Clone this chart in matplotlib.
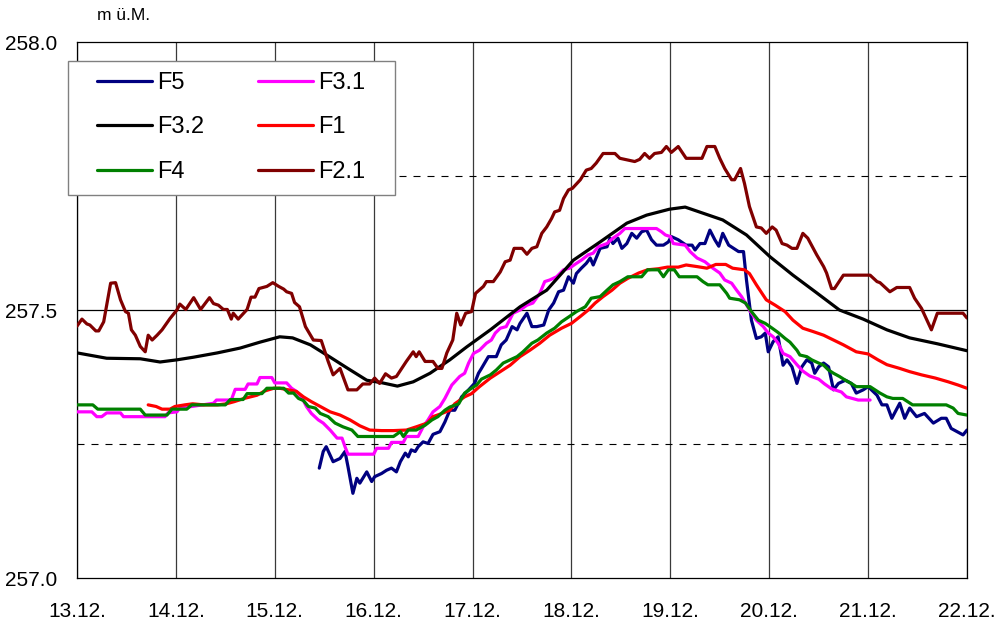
import numpy as np
import matplotlib.pyplot as plt
from matplotlib.patches import Rectangle

plt.rcParams['font.family'] = ['Liberation Sans', 'DejaVu Sans']

# Tage (x = Tage ab 13.12., 0 Uhr)
tage = ['13.12.', '14.12.', '15.12.', '16.12.', '17.12.',
        '18.12.', '19.12.', '20.12.', '21.12.', '22.12.']
y_ticks = [257.0, 257.5, 258.0]

# Pegel F5
t_f5 = [2.45, 2.49, 2.52, 2.59, 2.66, 2.71, 2.74, 2.79, 2.83, 2.86,
        2.93, 2.98, 3.01, 3.08, 3.13, 3.18, 3.23, 3.27, 3.32, 3.35,
        3.38, 3.42, 3.45, 3.50, 3.55, 3.60, 3.67, 3.72, 3.77, 3.82,
        3.89, 3.96, 4.02, 4.06, 4.09, 4.16, 4.24, 4.29, 4.34, 4.40,
        4.45, 4.48, 4.55, 4.60, 4.65, 4.72, 4.77, 4.82, 4.87, 4.92,
        4.97, 5.02, 5.05, 5.10, 5.15, 5.19, 5.22, 5.29, 5.36, 5.39,
        5.42, 5.47, 5.51, 5.56, 5.61, 5.66, 5.71, 5.76, 5.81, 5.86,
        5.93, 5.98, 6.01, 6.08, 6.16, 6.22, 6.25, 6.30, 6.35, 6.40,
        6.45, 6.49, 6.53, 6.59, 6.64, 6.69, 6.74, 6.77, 6.82, 6.87,
        6.92, 6.96, 6.99, 7.04, 7.09, 7.14, 7.18, 7.23, 7.28, 7.33,
        7.38, 7.43, 7.46, 7.50, 7.55, 7.60, 7.65, 7.70, 7.77, 7.83,
        7.88, 7.95, 8.00, 8.09, 8.14, 8.19, 8.24, 8.32, 8.37, 8.42,
        8.49, 8.57, 8.66, 8.74, 8.79, 8.84, 8.90, 8.96, 9.00]
h_f5 = [257.205, 257.236, 257.245, 257.217, 257.223, 257.236, 257.208, 257.158, 257.186, 257.177,
        257.198, 257.180, 257.189, 257.195, 257.201, 257.205, 257.198, 257.217, 257.233, 257.226,
        257.239, 257.236, 257.245, 257.254, 257.251, 257.268, 257.273, 257.291, 257.313, 257.313,
        257.338, 257.351, 257.363, 257.382, 257.391, 257.413, 257.413, 257.435, 257.444, 257.469,
        257.463, 257.475, 257.494, 257.469, 257.469, 257.472, 257.500, 257.513, 257.534, 257.537,
        257.562, 257.550, 257.568, 257.578, 257.587, 257.597, 257.584, 257.615, 257.618, 257.634,
        257.624, 257.634, 257.615, 257.624, 257.643, 257.634, 257.646, 257.649, 257.631, 257.621,
        257.621, 257.627, 257.637, 257.631, 257.621, 257.621, 257.612, 257.624, 257.624, 257.649,
        257.631, 257.619, 257.643, 257.621, 257.615, 257.609, 257.609, 257.556, 257.481, 257.447,
        257.450, 257.457, 257.422, 257.441, 257.450, 257.397, 257.407, 257.394, 257.363, 257.394,
        257.407, 257.401, 257.382, 257.394, 257.401, 257.394, 257.351, 257.363, 257.369, 257.363,
        257.345, 257.351, 257.357, 257.341, 257.323, 257.323, 257.298, 257.326, 257.298, 257.317,
        257.301, 257.307, 257.289, 257.298, 257.298, 257.279, 257.273, 257.267, 257.276]

# Pegel F3.1
t_f31 = [0.00, 0.15, 0.20, 0.25, 0.30, 0.44, 0.47, 0.89, 0.92, 1.01,
         1.04, 1.16, 1.38, 1.41, 1.56, 1.60, 1.70, 1.73, 1.82, 1.85,
         1.97, 2.00, 2.12, 2.17, 2.22, 2.27, 2.32, 2.37, 2.44, 2.49,
         2.56, 2.63, 2.68, 2.71, 2.74, 3.00, 3.03, 3.15, 3.18, 3.30,
         3.33, 3.45, 3.50, 3.55, 3.60, 3.67, 3.72, 3.79, 3.87, 3.92,
         3.96, 4.01, 4.07, 4.14, 4.19, 4.23, 4.28, 4.34, 4.41, 4.48,
         4.55, 4.61, 4.68, 4.73, 4.78, 4.85, 4.92, 4.98, 5.05, 5.10,
         5.17, 5.22, 5.27, 5.36, 5.42, 5.49, 5.54, 5.86, 5.91, 5.95,
         6.00, 6.03, 6.15, 6.20, 6.27, 6.35, 6.43, 6.50, 6.55, 6.62,
         6.67, 6.72, 6.76, 6.81, 6.87, 6.94, 6.99, 7.04, 7.09, 7.14,
         7.21, 7.28, 7.34, 7.41, 7.50, 7.56, 7.63, 7.73, 7.78, 7.90,
         8.02]
h_f31 = [257.310, 257.310, 257.301, 257.301, 257.308, 257.308, 257.301, 257.301, 257.308, 257.310,
         257.317, 257.320, 257.326, 257.332, 257.332, 257.352, 257.352, 257.362, 257.362, 257.374,
         257.374, 257.364, 257.364, 257.354, 257.348, 257.338, 257.320, 257.307, 257.295, 257.289,
         257.276, 257.261, 257.261, 257.245, 257.231, 257.231, 257.242, 257.242, 257.253, 257.253,
         257.264, 257.264, 257.282, 257.295, 257.310, 257.320, 257.335, 257.360, 257.376, 257.382,
         257.401, 257.419, 257.425, 257.438, 257.444, 257.457, 257.466, 257.469, 257.494, 257.500,
         257.509, 257.513, 257.531, 257.553, 257.556, 257.562, 257.575, 257.578, 257.587, 257.593,
         257.603, 257.606, 257.618, 257.624, 257.634, 257.643, 257.652, 257.652, 257.646, 257.640,
         257.637, 257.624, 257.621, 257.609, 257.597, 257.590, 257.578, 257.569, 257.556, 257.550,
         257.537, 257.525, 257.513, 257.497, 257.481, 257.469, 257.457, 257.450, 257.438, 257.419,
         257.413, 257.398, 257.386, 257.377, 257.371, 257.362, 257.353, 257.347, 257.338, 257.332,
         257.332]

# Pegel F3.2
t_f32 = [0.00, 0.30, 0.64, 0.84, 1.01, 1.18, 1.42, 1.65, 1.85, 2.05,
         2.18, 2.36, 2.56, 2.73, 2.93, 3.09, 3.24, 3.40, 3.57, 3.77,
         3.94, 4.18, 4.48, 4.75, 5.02, 5.29, 5.56, 5.76, 5.99, 6.15,
         6.53, 6.77, 7.01, 7.24, 7.48, 7.71, 7.95, 8.19, 8.42, 8.70,
         9.00]
h_f32 = [257.420, 257.410, 257.409, 257.403, 257.407, 257.412, 257.420, 257.429, 257.440, 257.450,
         257.448, 257.435, 257.412, 257.392, 257.369, 257.364, 257.358, 257.366, 257.382, 257.407,
         257.431, 257.463, 257.506, 257.537, 257.593, 257.627, 257.662, 257.677, 257.688, 257.692,
         257.668, 257.640, 257.599, 257.565, 257.532, 257.500, 257.483, 257.463, 257.448, 257.437,
         257.424]

# Pegel F1
t_f1 = [0.72, 0.80, 0.86, 0.94, 0.99, 1.09, 1.17, 1.28, 1.42, 1.51,
        1.59, 1.69, 1.82, 1.90, 1.99, 2.05, 2.14, 2.22, 2.29, 2.37,
        2.46, 2.56, 2.66, 2.76, 2.86, 2.96, 3.08, 3.20, 3.33, 3.43,
        3.54, 3.60, 3.69, 3.77, 3.82, 3.92, 3.99, 4.07, 4.18, 4.28,
        4.38, 4.48, 4.58, 4.68, 4.78, 4.90, 5.00, 5.09, 5.17, 5.24,
        5.32, 5.41, 5.49, 5.57, 5.68, 5.77, 5.88, 5.97, 6.08, 6.16,
        6.27, 6.37, 6.46, 6.56, 6.63, 6.75, 6.80, 6.87, 6.97, 7.06,
        7.16, 7.24, 7.34, 7.44, 7.55, 7.65, 7.75, 7.88, 8.00, 8.10,
        8.19, 8.32, 8.42, 8.54, 8.68, 8.81, 8.91, 9.00]
h_f1 = [257.323, 257.320, 257.315, 257.315, 257.320, 257.323, 257.325, 257.323, 257.323, 257.325,
        257.329, 257.335, 257.341, 257.349, 257.354, 257.354, 257.351, 257.348, 257.338, 257.329,
        257.320, 257.310, 257.304, 257.295, 257.284, 257.276, 257.275, 257.275, 257.276, 257.282,
        257.289, 257.301, 257.307, 257.313, 257.325, 257.338, 257.344, 257.357, 257.373, 257.385,
        257.397, 257.413, 257.425, 257.438, 257.453, 257.466, 257.475, 257.488, 257.500, 257.513,
        257.525, 257.537, 257.550, 257.559, 257.569, 257.575, 257.577, 257.580, 257.580, 257.584,
        257.581, 257.578, 257.585, 257.585, 257.578, 257.575, 257.568, 257.547, 257.519, 257.509,
        257.497, 257.481, 257.466, 257.460, 257.453, 257.444, 257.435, 257.422, 257.418, 257.407,
        257.398, 257.391, 257.385, 257.379, 257.373, 257.366, 257.360, 257.354]

# Pegel F4
t_f4 = [0.00, 0.16, 0.21, 0.64, 0.69, 0.91, 0.96, 1.11, 1.16, 1.50,
        1.55, 1.68, 1.72, 1.87, 1.92, 2.09, 2.14, 2.19, 2.24, 2.29,
        2.34, 2.41, 2.46, 2.54, 2.61, 2.69, 2.78, 2.84, 3.20, 3.27,
        3.30, 3.35, 3.43, 3.52, 3.59, 3.65, 3.72, 3.77, 3.86, 3.92,
        3.99, 4.04, 4.09, 4.18, 4.24, 4.31, 4.38, 4.45, 4.51, 4.60,
        4.66, 4.75, 4.83, 4.90, 4.98, 5.05, 5.14, 5.20, 5.29, 5.36,
        5.42, 5.49, 5.57, 5.71, 5.77, 5.88, 5.93, 5.98, 6.04, 6.09,
        6.27, 6.33, 6.38, 6.50, 6.57, 6.60, 6.70, 6.76, 6.82, 6.89,
        6.96, 7.03, 7.09, 7.16, 7.21, 7.28, 7.31, 7.38, 7.43, 7.50,
        7.55, 7.60, 7.65, 7.71, 7.77, 7.83, 7.88, 8.02, 8.07, 8.12,
        8.19, 8.25, 8.35, 8.40, 8.45, 8.79, 8.86, 8.91, 9.00]
h_f4 = [257.323, 257.323, 257.315, 257.315, 257.304, 257.304, 257.315, 257.315, 257.323, 257.323,
        257.333, 257.333, 257.344, 257.344, 257.354, 257.354, 257.345, 257.345, 257.335, 257.331,
        257.320, 257.317, 257.307, 257.301, 257.289, 257.282, 257.276, 257.264, 257.264, 257.273,
        257.264, 257.276, 257.276, 257.285, 257.295, 257.301, 257.313, 257.319, 257.325, 257.345,
        257.354, 257.360, 257.371, 257.379, 257.388, 257.401, 257.407, 257.413, 257.422, 257.438,
        257.444, 257.457, 257.466, 257.478, 257.488, 257.497, 257.506, 257.522, 257.525, 257.537,
        257.547, 257.553, 257.562, 257.562, 257.575, 257.575, 257.562, 257.575, 257.575, 257.562,
        257.562, 257.553, 257.547, 257.547, 257.531, 257.522, 257.519, 257.513, 257.497, 257.481,
        257.475, 257.466, 257.458, 257.447, 257.440, 257.425, 257.416, 257.413, 257.407, 257.401,
        257.397, 257.388, 257.382, 257.376, 257.369, 257.363, 257.357, 257.357, 257.351, 257.345,
        257.338, 257.335, 257.335, 257.329, 257.323, 257.323, 257.317, 257.307, 257.304]

# Pegel F2.1
t_f21 = [0.00, 0.05, 0.10, 0.13, 0.19, 0.22, 0.27, 0.34, 0.39, 0.44,
         0.49, 0.52, 0.55, 0.59, 0.64, 0.69, 0.72, 0.76, 0.81, 0.86,
         0.94, 1.01, 1.04, 1.10, 1.18, 1.25, 1.34, 1.38, 1.43, 1.48,
         1.52, 1.56, 1.58, 1.63, 1.72, 1.76, 1.80, 1.84, 1.92, 1.98,
         2.04, 2.09, 2.12, 2.17, 2.20, 2.25, 2.31, 2.39, 2.47, 2.54,
         2.59, 2.66, 2.74, 2.83, 2.89, 2.96, 3.01, 3.06, 3.12, 3.18,
         3.23, 3.33, 3.40, 3.43, 3.46, 3.52, 3.60, 3.65, 3.69, 3.74,
         3.80, 3.84, 3.88, 3.93, 3.99, 4.03, 4.11, 4.14, 4.21, 4.28,
         4.33, 4.38, 4.42, 4.50, 4.55, 4.60, 4.65, 4.70, 4.75, 4.80,
         4.83, 4.88, 4.92, 4.97, 5.01, 5.09, 5.15, 5.20, 5.25, 5.32,
         5.44, 5.49, 5.54, 5.64, 5.69, 5.74, 5.79, 5.84, 5.91, 5.96,
         6.01, 6.08, 6.16, 6.32, 6.37, 6.45, 6.50, 6.55, 6.62, 6.65,
         6.71, 6.75, 6.80, 6.87, 6.92, 6.97, 7.03, 7.07, 7.13, 7.18,
         7.23, 7.28, 7.34, 7.39, 7.48, 7.55, 7.58, 7.63, 7.66, 7.75,
         8.02, 8.09, 8.12, 8.22, 8.29, 8.42, 8.47, 8.54, 8.64, 8.70,
         8.96, 9.00]
h_f21 = [257.470, 257.483, 257.474, 257.472, 257.461, 257.461, 257.478, 257.550, 257.551, 257.519,
         257.497, 257.494, 257.463, 257.453, 257.432, 257.422, 257.453, 257.444, 257.453, 257.463,
         257.484, 257.500, 257.511, 257.501, 257.523, 257.501, 257.523, 257.512, 257.509, 257.501,
         257.501, 257.483, 257.494, 257.483, 257.501, 257.524, 257.524, 257.540, 257.544, 257.551,
         257.544, 257.539, 257.534, 257.531, 257.514, 257.506, 257.469, 257.444, 257.443, 257.404,
         257.379, 257.391, 257.351, 257.351, 257.362, 257.362, 257.373, 257.363, 257.381, 257.373,
         257.376, 257.404, 257.422, 257.413, 257.422, 257.404, 257.404, 257.391, 257.391, 257.420,
         257.444, 257.494, 257.472, 257.494, 257.497, 257.531, 257.544, 257.553, 257.553, 257.571,
         257.590, 257.593, 257.615, 257.615, 257.604, 257.615, 257.618, 257.643, 257.655, 257.671,
         257.683, 257.686, 257.708, 257.724, 257.727, 257.743, 257.761, 257.764, 257.774, 257.792,
         257.792, 257.783, 257.781, 257.777, 257.781, 257.792, 257.783, 257.792, 257.794, 257.805,
         257.794, 257.805, 257.783, 257.783, 257.805, 257.805, 257.783, 257.764, 257.743, 257.743,
         257.764, 257.736, 257.693, 257.655, 257.653, 257.643, 257.655, 257.649, 257.624, 257.621,
         257.615, 257.615, 257.643, 257.634, 257.603, 257.581, 257.569, 257.540, 257.540, 257.565,
         257.565, 257.553, 257.551, 257.534, 257.542, 257.542, 257.522, 257.503, 257.463, 257.494,
         257.494, 257.485]

fig = plt.figure(figsize=(9.97, 6.22), dpi=100)
ax = fig.add_axes([77 / 997, 1 - 578 / 622, 890 / 997, 536 / 622])

lw = 2.3
kw = dict(lw=lw, solid_joinstyle='round', solid_capstyle='round', zorder=3)
l_f5, = ax.plot(t_f5, h_f5, color='#000080', label='F5', **kw)
l_f31, = ax.plot(t_f31, h_f31, color='#FF00FF', label='F3.1', **kw)
l_f32, = ax.plot(t_f32, h_f32, color='black', label='F3.2', **kw)
l_f1, = ax.plot(t_f1, h_f1, color='#FF0000', label='F1', **kw)
l_f4, = ax.plot(t_f4, h_f4, color='#008000', label='F4', **kw)
l_f21, = ax.plot(t_f21, h_f21, color='#800000', label='F2.1', **kw)

# Gitter
ax.set_xlim(0, 9)
ax.set_ylim(257.0, 258.0)
ax.set_xticks(range(len(tage)))
ax.set_xticklabels(tage)
ax.set_yticks(y_ticks)
ax.set_yticklabels(['%.1f' % v for v in y_ticks])
ax.xaxis.grid(True, color='#3a3a3a', lw=0.9)
ax.axhline(257.5, color='black', lw=0.9, zorder=1)
for h in (257.25, 257.75):
    ax.axhline(h, color='black', lw=0.8, ls=(0, (6.3, 6.3)), zorder=1)
ax.set_axisbelow(True)
ax.tick_params(length=0, labelsize=15)
ax.tick_params(axis='x', pad=17)
ax.tick_params(axis='y', pad=14)
for s in ax.spines.values():
    s.set_color('black')
    s.set_linewidth(0.9)

fig.text(97 / 997, 1 - 16 / 622, 'm ü.M.', fontsize=12.5, ha='left', va='center')

# Legende mit eigenem Rahmen
fig.patches.append(Rectangle((68 / 997, 1 - 195 / 622), 327 / 997, 134 / 622,
                             transform=fig.transFigure, facecolor='white',
                             edgecolor='#808080', lw=1.0, zorder=1))
fig.legend([l_f5, l_f32, l_f4, l_f31, l_f1, l_f21],
           ['F5', 'F3.2', 'F4', 'F3.1', 'F1', 'F2.1'],
           ncol=2, loc='upper left', bbox_to_anchor=(97 / 997, 1 - 72 / 622),
           frameon=False, fontsize=17, borderpad=0, borderaxespad=0,
           handlelength=2.33, handletextpad=0.2, columnspacing=2.3,
           labelspacing=0.95)

fig.savefig('out.png', dpi=100)
